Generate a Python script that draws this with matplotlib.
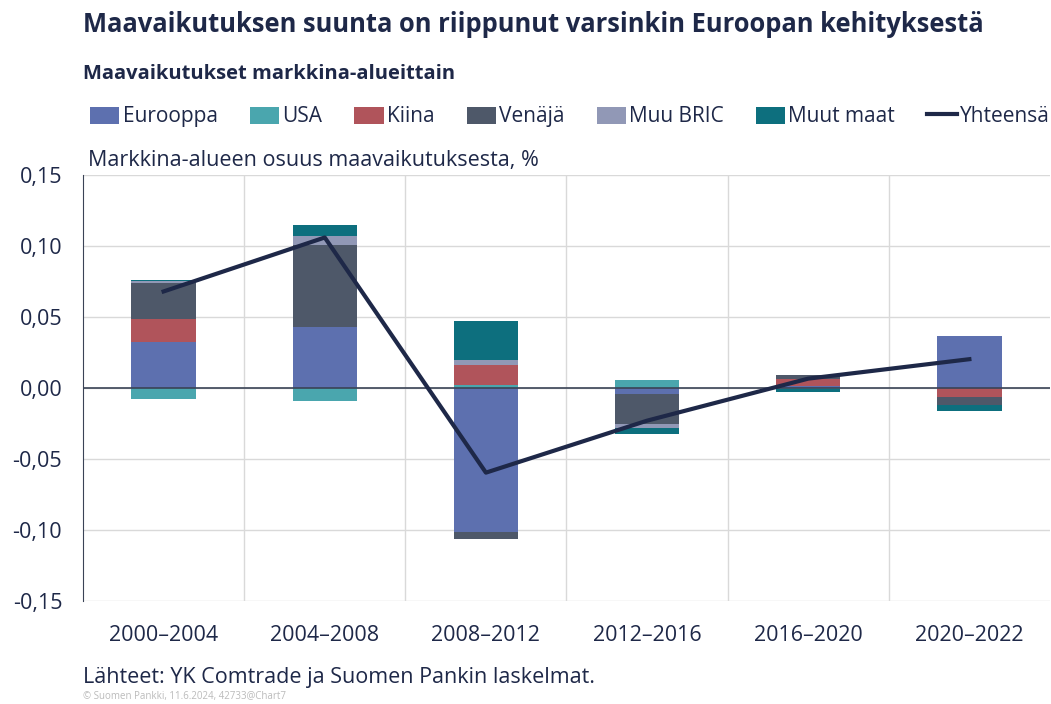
import matplotlib.pyplot as plt
import numpy as np

plt.rcParams['font.family'] = ['Open Sans', 'DejaVu Sans']

periods = ['2000–2004', '2004–2008', '2008–2012', '2012–2016', '2016–2020', '2020–2022']

eurooppa = [0.0326, 0.0432, -0.1015, -0.0040, 0.0014, 0.0366]
usa = [-0.0077, -0.0092, 0.0019, 0.0057, -0.0010, 0.0]
kiina = [0.0160, 0.0, 0.0145, 0.0, 0.0052, -0.0060]
venaja = [0.0253, 0.0575, -0.0045, -0.0210, 0.0028, -0.0063]
muu_bric = [0.0012, 0.0060, 0.0035, -0.0030, 0.0, 0.0]
muut_maat = [0.0009, 0.0080, 0.0270, -0.0045, -0.0020, -0.0040]
yhteensa = [0.068, 0.106, -0.0596, -0.023, 0.0066, 0.0203]

series = [
    ('Eurooppa', eurooppa, '#5D70AF'),
    ('USA', usa, '#4AA6AE'),
    ('Kiina', kiina, '#B0545B'),
    ('Venäjä', venaja, '#4E5869'),
    ('Muu BRIC', muu_bric, '#9198B6'),
    ('Muut maat', muut_maat, '#0D6F7E'),
]

fig = plt.figure(figsize=(10.51, 7.04), dpi=100)
ax = fig.add_axes([0.079, 0.1463, 0.92, 0.6051])

x = np.arange(len(periods))
pos_base = np.zeros(len(periods))
neg_base = np.zeros(len(periods))
handles = []
for name, vals, color in series:
    v = np.array(vals)
    base = np.where(v >= 0, pos_base, neg_base)
    h = ax.bar(x, v, 0.4, bottom=base, color=color, label=name, zorder=2)
    handles.append(h)
    pos_base += np.where(v >= 0, v, 0)
    neg_base += np.where(v < 0, v, 0)

line, = ax.plot(x, yhteensa, color='#1E2848', lw=3, label='Yhteensä', zorder=3)
handles.append(line)

ax.set_xlim(-0.5, len(periods) - 0.5)
ax.set_ylim(-0.15, 0.15)
yt = np.arange(-0.15, 0.151, 0.05)
ax.set_yticks(yt)
ax.set_yticklabels([f'{v:.2f}'.replace('.', ',').replace('-0,00', '0,00') for v in yt])
ax.set_xticks(x)
ax.set_xticklabels(periods)
ax.set_xticks(np.arange(0.5, len(periods) - 0.5), minor=True)
ax.tick_params(axis='both', which='both', length=0, labelsize=15.5, colors='#1E2848')
ax.tick_params(axis='x', pad=17)
ax.tick_params(axis='y', pad=15)
ax.grid(axis='y', color='#D9D9D9', lw=1, zorder=0)
ax.grid(axis='x', which='minor', color='#D9D9D9', lw=1, zorder=0)
ax.axhline(0, color='#3A4356', lw=1.2, zorder=2.5)
for s in ['top', 'right', 'bottom']:
    ax.spines[s].set_visible(False)
ax.spines['left'].set_color('#3A4356')

fig.legend(handles, [h.get_label() for h in handles], loc='center left',
           bbox_to_anchor=(0.068, 0.834), ncol=7, frameon=False, fontsize=15,
           handlelength=1.4, handleheight=0.9, handletextpad=0.15,
           columnspacing=1.55, labelcolor='#1E2848')

fig.text(0.079, 0.965, 'Maavaikutuksen suunta on riippunut varsinkin Euroopan kehityksestä',
         fontsize=18.4, fontweight='bold', color='#1E2848', va='center')
fig.text(0.079, 0.895, 'Maavaikutukset markkina-alueittain', fontsize=14.5,
         fontweight='bold', color='#1E2848', va='center')
fig.text(0.084, 0.772, 'Markkina-alueen osuus maavaikutuksesta, %', fontsize=15.5,
         color='#1E2848', va='center')
fig.text(0.079, 0.037, 'Lähteet: YK Comtrade ja Suomen Pankin laskelmat.', fontsize=15.5,
         color='#1E2848', va='center')
fig.text(0.079, 0.010, '© Suomen Pankki, 11.6.2024, 42733@Chart7', fontsize=7,
         color='#BBBBBB', va='center')

fig.savefig('out.png', dpi=100)
